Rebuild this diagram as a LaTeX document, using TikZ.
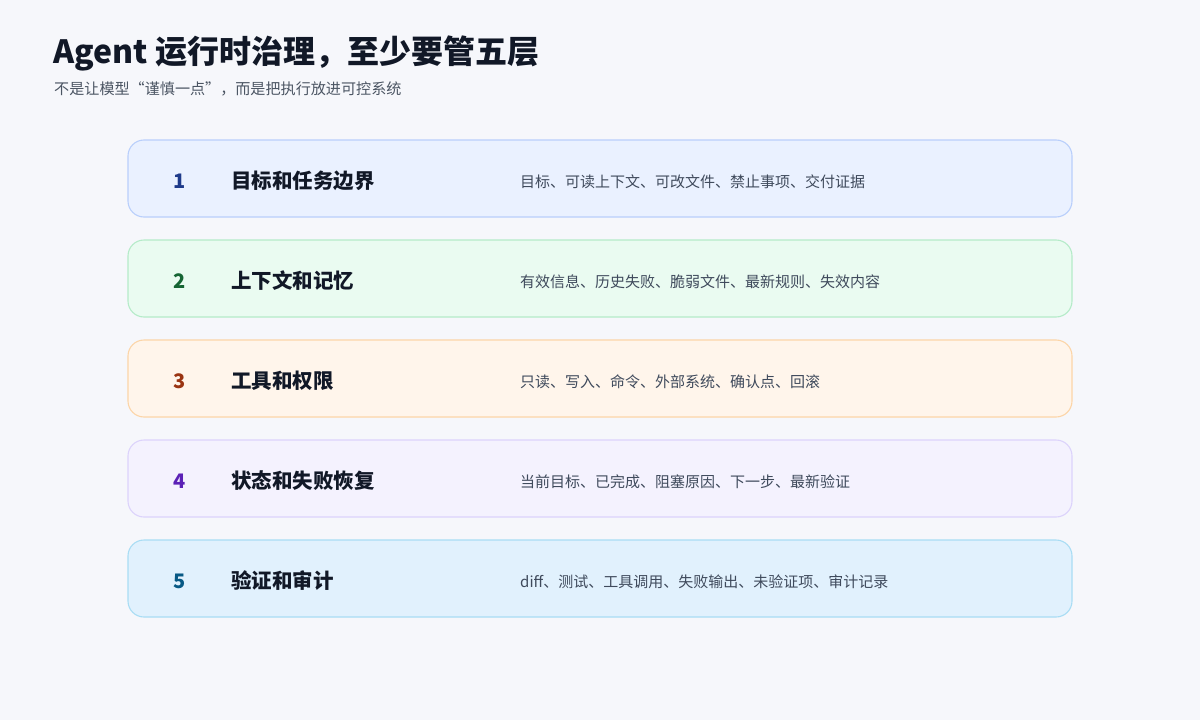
\documentclass[tikz,border=0pt]{standalone}
\usepackage{fontspec}
\setmainfont{Noto Sans CJK SC}
\definecolor{bg}{HTML}{F6F7FB}
\definecolor{ink}{HTML}{111827}
\definecolor{sub}{HTML}{4B5563}
\definecolor{desc}{HTML}{3F4A5C}
\definecolor{fA}{HTML}{EAF1FF}\definecolor{dA}{HTML}{B9CFFB}\definecolor{nA}{HTML}{1E3A8A}
\definecolor{fB}{HTML}{EAFBF1}\definecolor{dB}{HTML}{B5EBC9}\definecolor{nB}{HTML}{166534}
\definecolor{fC}{HTML}{FFF5EB}\definecolor{dC}{HTML}{FCD5A8}\definecolor{nC}{HTML}{9A3412}
\definecolor{fD}{HTML}{F4F2FE}\definecolor{dD}{HTML}{DCD3FB}\definecolor{nD}{HTML}{5B21B6}
\definecolor{fE}{HTML}{E1F1FD}\definecolor{dE}{HTML}{A9DDF4}\definecolor{nE}{HTML}{075985}
\tikzset{
  layerbox/.style={rounded corners=16pt, line width=1.1pt, minimum width=944pt, minimum height=77pt, inner sep=0pt},
  numtxt/.style={font=\fontsize{20}{24}\selectfont\bfseries, inner sep=0pt},
  headtxt/.style={font=\fontsize{20.5}{24}\selectfont\bfseries, text=ink, anchor=west, inner sep=0pt},
  desctxt/.style={font=\fontsize{15}{18}\selectfont, text=desc, anchor=west, inner sep=0pt},
}
\begin{document}
\begin{tikzpicture}[x=1pt,y=1pt]
\fill[bg] (0,0) rectangle (1200,-720);
\useasboundingbox (0,0) rectangle (1200,-720);
\node[anchor=base west, inner sep=0pt, text=ink, font=\fontsize{32}{36}\selectfont\bfseries] (title) at (53,-63) {Agent 运行时治理，至少要管五层};
\node[anchor=base west, inner sep=0pt, text=sub, font=\fontsize{15.1}{18}\selectfont] (subtitle) at (54,-94) {不是让模型“谨慎一点”，而是把执行放进可控系统};
% layer 1
\node[layerbox, fill=fA, draw=dA] (b1) at (600,-178.5) {};
\node[numtxt, text=nA] (n1) at (180,-181) {1};
\node[headtxt] (h1) at (231,-181) {目标和任务边界};
\node[desctxt] (d1) at (520,-182) {目标、可读上下文、可改文件、禁止事项、交付证据};
% layer 2
\node[layerbox, fill=fB, draw=dB] (b2) at (600,-278.5) {};
\node[numtxt, text=nB] (n2) at (180,-281) {2};
\node[headtxt] (h2) at (231,-281) {上下文和记忆};
\node[desctxt] (d2) at (520,-282) {有效信息、历史失败、脆弱文件、最新规则、失效内容};
% layer 3
\node[layerbox, fill=fC, draw=dC] (b3) at (600,-378.5) {};
\node[numtxt, text=nC] (n3) at (180,-381) {3};
\node[headtxt] (h3) at (231,-381) {工具和权限};
\node[desctxt] (d3) at (520,-382) {只读、写入、命令、外部系统、确认点、回滚};
% layer 4
\node[layerbox, fill=fD, draw=dD] (b4) at (600,-478.5) {};
\node[numtxt, text=nD] (n4) at (180,-481) {4};
\node[headtxt] (h4) at (231,-481) {状态和失败恢复};
\node[desctxt] (d4) at (520,-482) {当前目标、已完成、阻塞原因、下一步、最新验证};
% layer 5
\node[layerbox, fill=fE, draw=dE] (b5) at (600,-578.5) {};
\node[numtxt, text=nE] (n5) at (180,-581) {5};
\node[headtxt] (h5) at (231,-581) {验证和审计};
\node[desctxt] (d5) at (520,-582) {diff、测试、工具调用、失败输出、未验证项、审计记录};
\end{tikzpicture}
\end{document}
